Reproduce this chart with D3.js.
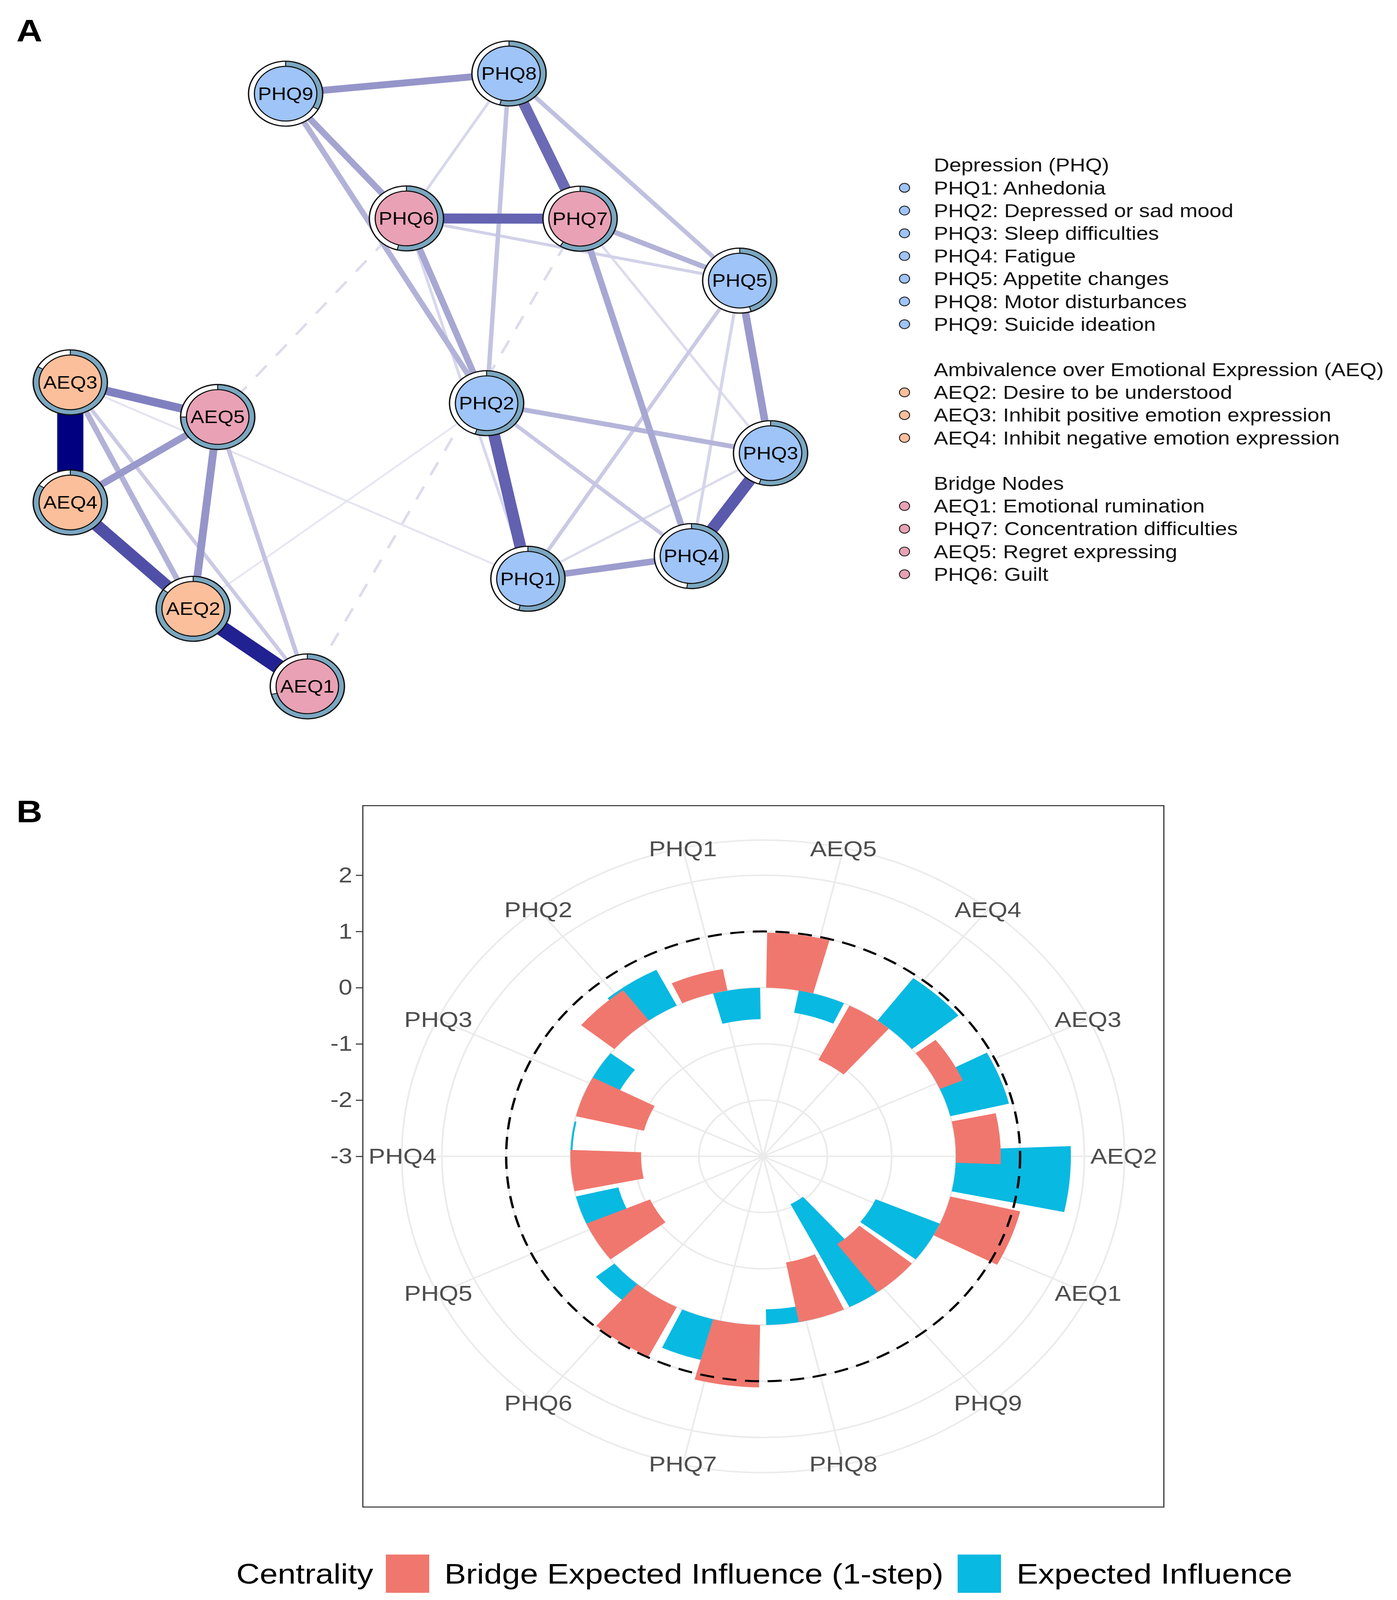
<!DOCTYPE html>
<html lang="en">
<head>
<meta charset="utf-8" />
<title>Network and bridge centrality</title>
<script src="https://cdnjs.cloudflare.com/ajax/libs/d3/7.8.5/d3.min.js"></script>
<style>
  html, body { margin: 0; padding: 0; background: #fff; overflow: hidden; }
  svg { display: block; }
  svg text { font-family: "Liberation Sans", Arial, Helvetica, sans-serif; }
</style>
</head>
<body>
<script>
var W = 3577, H = 4681;

// ---------- panel A : network ----------
var nodeIds   = ["PHQ1","PHQ2","PHQ3","PHQ4","PHQ5","PHQ6","PHQ7","PHQ8","PHQ9","AEQ1","AEQ2","AEQ3","AEQ4","AEQ5"];
var nodeGroup = ["PHQ","PHQ","PHQ","PHQ","PHQ","Bridge","Bridge","PHQ","PHQ","Bridge","AEQ","AEQ","AEQ","Bridge"];
// layout coordinates (qgraph style, -1..1)
var layoutX = [0.307, 0.189, 1.000, 0.774, 0.912, -0.040, 0.456, 0.253, -0.385, -0.323, -0.649, -1.000, -1.000, -0.579];
var layoutY = [-0.649, -0.076, -0.239, -0.575, 0.324, 0.527, 0.526, 1.000, 0.934, -1.000, -0.747, -0.008, -0.400, -0.121];
// pie ring (share of ring filled, clockwise from top)
var predictability = [0.54, 0.55, 0.55, 0.52, 0.45, 0.54, 0.59, 0.54, 0.33, 0.71, 0.85, 0.83, 0.84, 0.75];

var edges = [
  ["AEQ3","AEQ4", 1.00], ["AEQ2","AEQ1", 0.63], ["AEQ4","AEQ2", 0.50], ["PHQ3","PHQ4", 0.47],
  ["PHQ2","PHQ1", 0.45], ["PHQ6","PHQ7", 0.44], ["PHQ8","PHQ7", 0.42], ["AEQ3","AEQ5", 0.36],
  ["PHQ9","PHQ8", 0.30], ["AEQ5","AEQ2", 0.30], ["PHQ5","PHQ3", 0.29], ["AEQ4","AEQ5", 0.29],
  ["PHQ4","PHQ1", 0.28], ["PHQ9","PHQ6", 0.26], ["PHQ6","PHQ2", 0.25], ["PHQ7","PHQ4", 0.25],
  ["PHQ9","PHQ2", 0.22], ["PHQ7","PHQ5", 0.22], ["AEQ3","AEQ2", 0.22], ["PHQ2","PHQ3", 0.21],
  ["PHQ8","PHQ5", 0.18], ["PHQ8","PHQ2", 0.17], ["AEQ5","AEQ1", 0.17], ["PHQ2","PHQ4", 0.16],
  ["AEQ3","AEQ1", 0.15], ["PHQ5","PHQ1", 0.15], ["PHQ6","PHQ5", 0.13], ["PHQ5","PHQ4", 0.12],
  ["PHQ8","PHQ6", 0.11], ["PHQ6","PHQ1", 0.11], ["PHQ7","PHQ3", 0.10], ["PHQ3","PHQ1", 0.10],
  ["AEQ3","PHQ1", 0.08], ["PHQ2","AEQ2", 0.07], ["PHQ6","AEQ5", -0.10], ["PHQ7","AEQ1", -0.10]
];

var legendHeaders = ["Depression (PHQ)", "Ambivalence over Emotional Expression (AEQ)", "Bridge Nodes"];
var legendPHQ = ["PHQ1: Anhedonia", "PHQ2: Depressed or sad mood", "PHQ3: Sleep difficulties", "PHQ4: Fatigue",
                 "PHQ5: Appetite changes", "PHQ8: Motor disturbances", "PHQ9: Suicide ideation"];
var legendAEQ = ["AEQ2: Desire to be understood", "AEQ3: Inhibit positive emotion expression",
                 "AEQ4: Inhibit negative emotion expression"];
var legendBridge = ["AEQ1: Emotional rumination", "PHQ7: Concentration difficulties",
                    "AEQ5: Regret expressing", "PHQ6: Guilt"];

// ---------- panel B : centrality ----------
var items = ["AEQ5","AEQ4","AEQ3","AEQ2","AEQ1","PHQ9","PHQ8","PHQ7","PHQ6","PHQ5","PHQ4","PHQ3","PHQ2","PHQ1"];
var bridgeEI = [0.98, -1.08, 0.39, 0.70, 1.12, -1.06, -1.08, 1.11, 0.98, -1.08, -1.10, -1.09, 0.67, 0.39];
var expectedInfluence = [-0.40, 0.94, 0.94, 1.79, -1.09, -2.05, -0.28, 0.75, 0.37, -0.68, -0.03, -0.48, 0.71, -0.56];
var rTicks = [2, 1, 0, -1, -2, -3];
var seriesNames = ["Bridge Expected Influence (1-step)", "Expected Influence"];

var groupFill = { PHQ: "#9ec4f8", AEQ: "#fcbf9b", Bridge: "#e9a1b5" };
var seriesFill = ["#f0776e", "#08b9e1"];

// the figure is laid out at 3577 x 4681 and stretched onto the whole window
var vw = window.innerWidth || W, vh = window.innerHeight || H;
var root = d3.select("body").append("svg")
    .attr("width", vw)
    .attr("height", vh)
    .attr("viewBox", "0 0 " + W + " " + H)
    .attr("preserveAspectRatio", "none")
    .style("background", "#fff");
root.append("rect").attr("width", W).attr("height", H).attr("fill", "#fff");
var svg = root.append("g");

// ================= panel A =================
var xNet = d3.scaleLinear().domain([-1, 1]).range([180, 1973]);
var yNet = d3.scaleLinear().domain([-1, 1]).range([2008, 215]);
var edgeWidth = d3.scaleLinear().domain([0, 1]).range([0, 67]);
var edgeCol = d3.interpolateRgb("#ffffff", "#000080");

var pos = {};
nodeIds.forEach(function (id, i) {
    pos[id] = { x: xNet(layoutX[i]), y: yNet(layoutY[i]) };
});

var netEdges = edges.slice().sort(function (a, b) {
    return Math.abs(a[2]) - Math.abs(b[2]);
});

svg.append("g").selectAll("line")
    .data(netEdges)
    .enter()
    .append("line")
    .attr("x1", function (d) { return pos[d[0]].x; })
    .attr("y1", function (d) { return pos[d[0]].y; })
    .attr("x2", function (d) { return pos[d[1]].x; })
    .attr("y2", function (d) { return pos[d[1]].y; })
    .attr("stroke", function (d) { return edgeCol(Math.min(1, 1.38 * Math.abs(d[2]))); })
    .attr("stroke-width", function (d) { return Math.max(5, edgeWidth(Math.abs(d[2]))); })
    .attr("stroke-dasharray", function (d) { return d[2] < 0 ? "42,38" : null; });

var rIn = 80, rOut = 95;
var ringArc = d3.arc().innerRadius(rIn).outerRadius(rOut);

var nodes = svg.append("g").selectAll("g")
    .data(nodeIds)
    .enter()
    .append("g")
    .attr("transform", function (d) { return "translate(" + pos[d].x + "," + pos[d].y + ")"; });

nodes.append("circle").attr("r", rOut).attr("fill", "#fff");
nodes.append("path")
    .attr("d", function (d, i) {
        return ringArc({ startAngle: 0, endAngle: predictability[i] * 2 * Math.PI });
    })
    .attr("fill", "#7ba7c1");
nodes.append("circle")
    .attr("r", rIn)
    .attr("fill", function (d, i) { return groupFill[nodeGroup[i]]; })
    .attr("stroke", "#111")
    .attr("stroke-width", 3);
nodes.append("circle")
    .attr("r", rOut)
    .attr("fill", "none")
    .attr("stroke", "#111")
    .attr("stroke-width", 3.5);
nodes.each(function (d, i) {
    var g = d3.select(this);
    [0, predictability[i] * 2 * Math.PI].forEach(function (a) {
        g.append("line")
            .attr("x1", rIn * Math.sin(a)).attr("y1", -rIn * Math.cos(a))
            .attr("x2", rOut * Math.sin(a)).attr("y2", -rOut * Math.cos(a))
            .attr("stroke", "#111").attr("stroke-width", 2.5);
    });
});
nodes.append("text")
    .text(function (d) { return d; })
    .attr("text-anchor", "middle")
    .attr("dominant-baseline", "central")
    .attr("font-size", 52)
    .attr("fill", "#000");

// legend of panel A
var legRows = [];
legRows.push({ row: 0, text: legendHeaders[0] });
legendPHQ.forEach(function (t, i) { legRows.push({ row: 1 + i, text: t, group: "PHQ" }); });
legRows.push({ row: 9, text: legendHeaders[1] });
legendAEQ.forEach(function (t, i) { legRows.push({ row: 10 + i, text: t, group: "AEQ" }); });
legRows.push({ row: 14, text: legendHeaders[2] });
legendBridge.forEach(function (t, i) { legRows.push({ row: 15 + i, text: t, group: "Bridge" }); });

var yLeg = d3.scaleLinear().domain([0, 1]).range([483, 549.5]);
var leg = svg.append("g");
leg.selectAll("text")
    .data(legRows)
    .enter()
    .append("text")
    .attr("x", 2391)
    .attr("y", function (d) { return yLeg(d.row); })
    .attr("dominant-baseline", "central")
    .attr("font-size", 55)
    .attr("fill", "#111")
    .text(function (d) { return d.text; });
leg.selectAll("circle")
    .data(legRows.filter(function (d) { return d.group; }))
    .enter()
    .append("circle")
    .attr("cx", 2316)
    .attr("cy", function (d) { return yLeg(d.row); })
    .attr("r", 13)
    .attr("fill", function (d) { return groupFill[d.group]; })
    .attr("stroke", "#222")
    .attr("stroke-width", 2.5);

// ================= panel B =================
var cx = 1954, cy = 3383;
var rScale = d3.scaleLinear().domain([-3, 2]).range([0, 822.5]);
var theta = d3.scaleLinear().domain([0.5, items.length + 0.5]).range([0, 2 * Math.PI]);
var rOuter = rScale.range()[1] * 0.45 / 0.4;

svg.append("rect")
    .attr("x", 929).attr("y", 2357)
    .attr("width", 2051).attr("height", 2052)
    .attr("fill", "none")
    .attr("stroke", "#333")
    .attr("stroke-width", 3);

var polar = svg.append("g").attr("transform", "translate(" + cx + "," + cy + ")");

// grid
polar.selectAll("circle.grid")
    .data([-2, -1, 0, 1, 2])
    .enter()
    .append("circle")
    .attr("class", "grid")
    .attr("r", function (d) { return rScale(d); })
    .attr("fill", "none")
    .attr("stroke", "#ebebeb")
    .attr("stroke-width", 4.5);
polar.append("circle")
    .attr("r", rOuter)
    .attr("fill", "none")
    .attr("stroke", "#ebebeb")
    .attr("stroke-width", 4.5);
polar.selectAll("line.spoke")
    .data(items)
    .enter()
    .append("line")
    .attr("class", "spoke")
    .attr("x1", 0).attr("y1", 0)
    .attr("x2", function (d, i) { return rOuter * Math.sin(theta(i + 1)); })
    .attr("y2", function (d, i) { return -rOuter * Math.cos(theta(i + 1)); })
    .attr("stroke", "#ebebeb")
    .attr("stroke-width", 4.5);

// bars (blue first, red on top)
var barArc = d3.arc();
var halfW = 0.275, dodge = 0.19;
var barData = [];
items.forEach(function (d, i) {
    barData.push({ s: 1, x: i + 1 + dodge, v: expectedInfluence[i] });
});
items.forEach(function (d, i) {
    barData.push({ s: 0, x: i + 1 - dodge, v: bridgeEI[i] });
});
polar.selectAll("path.bar")
    .data(barData)
    .enter()
    .append("path")
    .attr("class", "bar")
    .attr("d", function (d) {
        var r0 = rScale(0), r1 = rScale(d.v);
        return barArc({
            innerRadius: Math.min(r0, r1),
            outerRadius: Math.max(r0, r1),
            startAngle: theta(d.x - halfW),
            endAngle: theta(d.x + halfW)
        });
    })
    .attr("fill", function (d) { return seriesFill[d.s]; });

// reference circle at 1
polar.append("circle")
    .attr("r", rScale(1))
    .attr("fill", "none")
    .attr("stroke", "#000")
    .attr("stroke-width", 6)
    .attr("stroke-dasharray", "36,22");

// theta labels
polar.selectAll("text.lab")
    .data(items)
    .enter()
    .append("text")
    .attr("class", "lab")
    .attr("x", function (d, i) { return (rOuter - 2) * Math.sin(theta(i + 1)); })
    .attr("y", function (d, i) { return -(rOuter - 2) * Math.cos(theta(i + 1)); })
    .attr("text-anchor", "middle")
    .attr("dominant-baseline", "central")
    .attr("font-size", 64)
    .attr("fill", "#4d4d4d")
    .text(function (d) { return d; });

// radial axis on the left
var yAxisScale = d3.scaleLinear().domain([-3, 2]).range([cy, cy - 822.5]);
var yAxis = svg.append("g")
    .attr("transform", "translate(929,0)")
    .call(d3.axisLeft(yAxisScale)
        .tickValues(rTicks)
        .tickSize(18)
        .tickPadding(9)
        .tickFormat(function (d) { return String(d); }));
yAxis.select(".domain").remove();
yAxis.selectAll(".tick line").attr("stroke", "#333").attr("stroke-width", 3);
yAxis.selectAll(".tick text")
    .attr("font-size", 63)
    .attr("fill", "#4d4d4d")
    .attr("font-family", "Liberation Sans, Arial, sans-serif");

// bottom legend
var bl = svg.append("g");
bl.append("text")
    .attr("x", 605).attr("y", 4604)
    .attr("dominant-baseline", "central")
    .attr("font-size", 83)
    .attr("fill", "#000")
    .text("Centrality");
var keyX = [988, 2452], textX = [1138, 2603];
seriesNames.forEach(function (name, i) {
    bl.append("rect")
        .attr("x", keyX[i]).attr("y", 4548)
        .attr("width", 111).attr("height", 112)
        .attr("fill", seriesFill[i]);
    bl.append("text")
        .attr("x", textX[i]).attr("y", 4604)
        .attr("dominant-baseline", "central")
        .attr("font-size", 83)
        .attr("fill", "#000")
        .text(name);
});

// panel letters
svg.append("text").attr("x", 42).attr("y", 121)
    .attr("font-size", 92).attr("font-weight", "bold").text("A");
svg.append("text").attr("x", 42).attr("y", 2406)
    .attr("font-size", 92).attr("font-weight", "bold").text("B");
</script>
</body>
</html>
